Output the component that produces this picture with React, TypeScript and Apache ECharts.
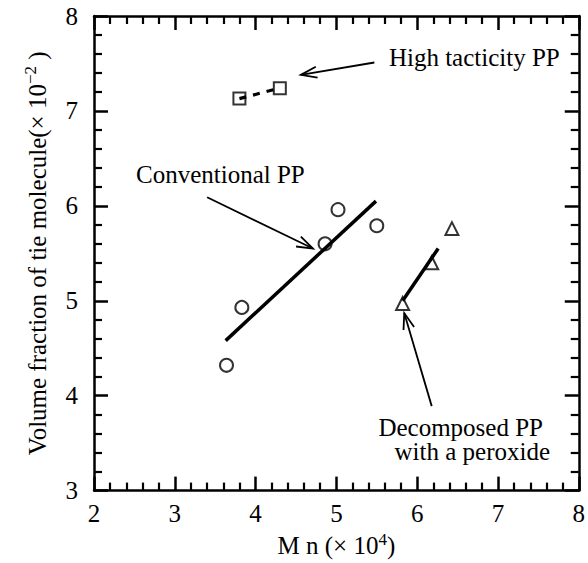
import React, { useEffect, useRef } from "react";
import * as echarts from "echarts";

// Data
const conventionalMn = [3.64, 3.83, 4.86, 5.02, 5.5];
const conventionalVf = [4.32, 4.93, 5.6, 5.96, 5.79];
const highTactMn = [3.8, 4.3];
const highTactVf = [7.13, 7.24];
const decompMn = [5.82, 6.18, 6.43];
const decompVf = [4.97, 5.4, 5.76];

const conventionalFit = [
  [3.63, 4.58],
  [5.49, 6.05],
];
const decompFit = [
  [5.82, 5.0],
  [6.26, 5.55],
];
const highTactLink = [
  [3.8, 7.13],
  [4.3, 7.24],
];

const xMin = 2;
const xMax = 8;
const yMin = 3;
const yMax = 8;

const annotationLabels = [
  "High tacticity PP",
  "Conventional PP",
  "Decomposed PP",
  "with a peroxide",
];
const annotationX = [5.65, 2.52, 5.52, 5.72];
const annotationY = [7.56, 6.33, 3.67, 3.41];

// arrows: [fromX, fromY] -> [toX, toY] in data units
const arrowFrom = [
  [5.47, 7.51],
  [3.4, 6.09],
  [6.18, 3.89],
];
const arrowTo = [
  [4.56, 7.38],
  [4.71, 5.55],
  [5.84, 4.87],
];

const FONT = "'Liberation Serif', 'Times New Roman', serif";

export default function App() {
  const ref = useRef<HTMLDivElement>(null);

  useEffect(() => {
    document.body.style.margin = "0";
    if (!ref.current) return;
    const chart = echarts.init(ref.current, undefined, { renderer: "svg" });

    const axisCommon = (show: boolean, margin: number) => ({
      axisLine: { show: true, onZero: false, lineStyle: { color: "#000", width: 2.5 } },
      axisTick: { show: true, inside: true, length: 14, lineStyle: { color: "#000", width: 2.5 } },
      minorTick: { show: true, splitNumber: 5, length: 8, lineStyle: { color: "#000", width: 2.2 } },
      splitLine: { show: false },
      minorSplitLine: { show: false },
      axisLabel: {
        show,
        margin,
        color: "#000",
        fontFamily: FONT,
        fontSize: 25,
      },
    });

    const rich = {
      a: { fontFamily: FONT, fontSize: 25, color: "#000", lineHeight: 30 },
      s: { fontFamily: FONT, fontSize: 17, color: "#000", verticalAlign: "top", lineHeight: 30 },
    };

    const option: any = {
      animation: false,
      backgroundColor: "#fff",
      grid: { left: 94, top: 16, right: 5, bottom: 65, containLabel: false },
      xAxis: [
        {
          type: "value",
          position: "bottom",
          min: xMin,
          max: xMax,
          interval: 1,
          ...axisCommon(true, 10),
          name: "{a|M n (× 10}{s|4}{a|)}",
          nameLocation: "middle",
          nameGap: 34,
          nameTextStyle: { rich },
        },
        {
          type: "value",
          position: "top",
          min: xMin,
          max: xMax,
          interval: 1,
          ...axisCommon(false, 8),
        },
      ],
      yAxis: [
        {
          type: "value",
          position: "left",
          min: yMin,
          max: yMax,
          interval: 1,
          ...axisCommon(true, 16),
          name: "{a|Volume fraction of tie molecule(× 10}{s|−2}{a| )}",
          nameLocation: "middle",
          nameGap: 42,
          nameRotate: 90,
          nameTextStyle: { rich },
        },
        {
          type: "value",
          position: "right",
          min: yMin,
          max: yMax,
          interval: 1,
          ...axisCommon(false, 8),
        },
      ],
      series: [
        {
          name: "Conventional PP",
          type: "scatter",
          symbol: "emptyCircle",
          symbolSize: 13,
          itemStyle: { color: "#000", borderColor: "#000", borderWidth: 1.8 },
          data: conventionalMn.map((x, i) => [x, conventionalVf[i]]),
          z: 3,
        },
        {
          name: "High tacticity PP",
          type: "scatter",
          symbol: "emptyRect",
          symbolSize: 12,
          itemStyle: { color: "#000", borderColor: "#000", borderWidth: 2 },
          data: highTactMn.map((x, i) => [x, highTactVf[i]]),
          z: 3,
        },
        {
          name: "Decomposed PP",
          type: "scatter",
          symbol: "emptyTriangle",
          symbolSize: 13,
          itemStyle: { color: "#000", borderColor: "#000", borderWidth: 2.2 },
          data: decompMn.map((x, i) => [x, decompVf[i]]),
          z: 3,
        },
        {
          type: "line",
          data: conventionalFit,
          symbol: "none",
          lineStyle: { color: "#000", width: 3.5 },
          z: 4,
        },
        {
          type: "line",
          data: decompFit,
          symbol: "none",
          lineStyle: { color: "#000", width: 3.5 },
          z: 4,
        },
        {
          type: "line",
          data: highTactLink,
          symbol: "none",
          lineStyle: { color: "#000", width: 3.2, type: [7, 7] },
          z: 4,
        },
        {
          type: "custom",
          clip: false,
          silent: true,
          z: 5,
          encode: { x: [0, 2], y: [1, 3] },
          data: arrowFrom.map((f, i) => [f[0], f[1], arrowTo[i][0], arrowTo[i][1]]),
          renderItem: (params: any, api: any) => {
            const p1 = api.coord([api.value(0), api.value(1)]);
            const p2 = api.coord([api.value(2), api.value(3)]);
            const ang = Math.atan2(p2[1] - p1[1], p2[0] - p1[0]);
            const L = 17;
            const spread = 0.33;
            const h1 = [p2[0] - L * Math.cos(ang - spread), p2[1] - L * Math.sin(ang - spread)];
            const h2 = [p2[0] - L * Math.cos(ang + spread), p2[1] - L * Math.sin(ang + spread)];
            return {
              type: "group",
              children: [
                {
                  type: "line",
                  shape: { x1: p1[0], y1: p1[1], x2: p2[0], y2: p2[1] },
                  style: { stroke: "#000", lineWidth: 1.8 },
                },
                {
                  type: "polyline",
                  shape: { points: [h1, p2, h2] },
                  style: { stroke: "#000", lineWidth: 1.8, fill: "none" },
                },
              ],
            };
          },
        },
        {
          type: "custom",
          clip: false,
          silent: true,
          z: 5,
          encode: { x: 0, y: 1 },
          data: annotationX.map((x, i) => [x, annotationY[i], i]),
          renderItem: (params: any, api: any) => {
            const p = api.coord([api.value(0), api.value(1)]);
            return {
              type: "text",
              x: p[0],
              y: p[1],
              style: {
                text: annotationLabels[api.value(2)],
                fontFamily: FONT,
                fontSize: 25,
                fill: "#000",
                align: "left",
                verticalAlign: "middle",
              },
            };
          },
        },
      ],
    };

    chart.setOption(option);
    return () => chart.dispose();
  }, []);

  return <div ref={ref} style={{ width: 588, height: 563 }} />;
}
